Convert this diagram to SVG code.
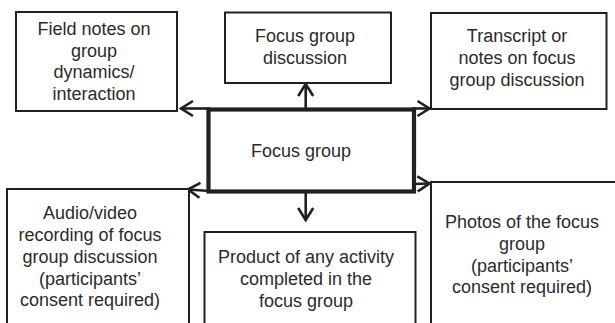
<svg xmlns="http://www.w3.org/2000/svg" width="615" height="323" viewBox="0 0 615 323">
<defs>
<style>
.box{fill:#fff;stroke:#231f20;stroke-width:2}
.main{fill:#fff;stroke:#231f20;stroke-width:4.2}
.t{font-family:"Liberation Sans",Arial,sans-serif;font-size:18px;fill:#2b2b2b;text-anchor:middle}
.c{stroke:#231f20;stroke-width:2.6;fill:none;marker-end:url(#ah)}
</style>
<marker id="ah" markerUnits="userSpaceOnUse" viewBox="-16 -10 18 20" refX="0" refY="0" markerWidth="18" markerHeight="20" orient="auto" overflow="visible">
<path d="M-12,-7.5 L0,0 L-12,7.5" fill="none" stroke="#231f20" stroke-width="2.6" stroke-linejoin="miter"/>
</marker>
</defs>
<rect width="615" height="323" fill="#fff"/>
<g id="connectors">
<line class="c" x1="210" y1="108.5" x2="181" y2="108.5"/>
<line class="c" x1="305.7" y1="108" x2="305.7" y2="84"/>
<line class="c" x1="412" y1="108.5" x2="429.5" y2="108.5"/>
<line class="c" x1="412" y1="184" x2="429.5" y2="183.5"/>
<line class="c" x1="210" y1="191" x2="188" y2="189.5"/>
<line class="c" x1="305.7" y1="193" x2="305.7" y2="220"/>
</g>
<g id="field-notes">
<rect class="box" x="16" y="12" width="161" height="99"/>
<text class="t" x="94" y="35">Field notes on</text>
<text class="t" x="94" y="56.5">group</text>
<text class="t" x="94" y="78">dynamics/</text>
<text class="t" x="94" y="99.5">interaction</text>
</g>
<g id="focus-group-discussion">
<rect class="box" x="225" y="12.5" width="166" height="70.5"/>
<text class="t" x="305" y="42">Focus group</text>
<text class="t" x="305" y="64">discussion</text>
</g>
<g id="transcript">
<rect class="box" x="431" y="13" width="175.5" height="96"/>
<text class="t" x="517" y="42">Transcript or</text>
<text class="t" x="517" y="64">notes on focus</text>
<text class="t" x="517" y="86">group discussion</text>
</g>
<g id="focus-group">
<rect class="main" x="208.5" y="109.5" width="205.5" height="82"/>
<text class="t" x="301" y="157.3">Focus group</text>
</g>
<g id="audio-video">
<rect class="box" x="7" y="189" width="182" height="160"/>
<text class="t" x="90" y="219">Audio/video</text>
<text class="t" x="90" y="241">recording of focus</text>
<text class="t" x="90" y="263">group discussion</text>
<text class="t" x="90" y="284.5">(participants’</text>
<text class="t" x="90" y="306">consent required)</text>
</g>
<g id="product">
<rect class="box" x="204.5" y="232" width="211" height="120"/>
<text class="t" x="306" y="263">Product of any activity</text>
<text class="t" x="306" y="285">completed in the</text>
<text class="t" x="306" y="307">focus group</text>
</g>
<g id="photos">
<rect class="box" x="431" y="182" width="200" height="170"/>
<text class="t" x="522" y="228">Photos of the focus</text>
<text class="t" x="522" y="250">group</text>
<text class="t" x="522" y="271.5">(participants’</text>
<text class="t" x="522" y="293">consent required)</text>
</g>
</svg>
